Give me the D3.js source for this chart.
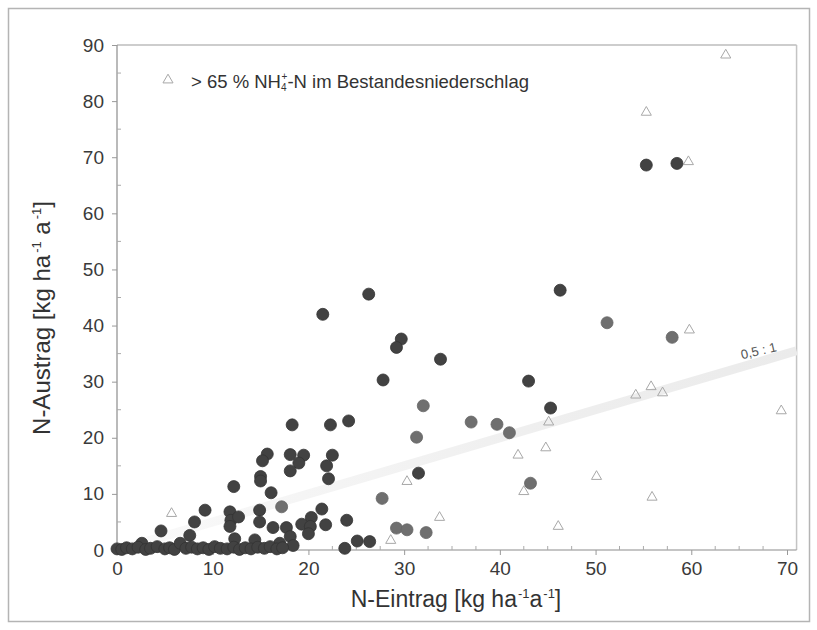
<!DOCTYPE html>
<html>
<head>
<meta charset="utf-8">
<script src="https://cdn.jsdelivr.net/npm/d3@7/dist/d3.min.js"></script>
<style>
  html, body { margin: 0; padding: 0; background: #fff; }
  svg { display: block; font-family: "Liberation Sans", Arial, sans-serif; }
</style>
</head>
<body>
<svg id="chart" width="817" height="630"></svg>
<script>
// N input vs. N output, dark circles
const darkX = [21.5, 26.3, 27.8, 29.7, 29.2, 33.8, 43.0, 46.3, 45.3, 31.5, 55.3, 58.5,
  18.3, 22.3, 24.2, 15.7, 15.2, 18.1, 19.5, 19.0, 18.1, 22.5, 21.9, 22.1, 15.0, 15.0, 12.2, 16.1,
  9.2, 8.1, 4.6, 7.6, 2.6, 11.8, 11.9, 12.7, 11.8, 14.9, 14.9, 16.3, 17.7, 21.4, 20.3, 19.3, 20.2,
  21.8, 20.0, 24.0, 18.1, 18.4, 17.0, 12.3, 14.4, 23.8, 25.1, 26.4,
  0.0, 0.5, 1.0, 1.6, 2.2, 3.0, 3.5, 4.2, 5.0, 5.5, 6.0, 6.6, 7.2, 7.8, 8.4, 9.0, 9.6, 10.2,
  10.8, 11.5, 12.2, 12.8, 13.4, 14.0, 14.7, 15.4, 16.0, 16.7, 17.3];
const darkY = [42.0, 45.6, 30.3, 37.6, 36.1, 34.0, 30.1, 46.3, 25.3, 13.7, 68.6, 68.9,
  22.3, 22.3, 23.0, 17.1, 15.9, 17.0, 16.9, 15.5, 14.1, 16.9, 15.0, 12.7, 13.1, 12.3, 11.3, 10.2,
  7.1, 5.0, 3.4, 2.6, 1.2, 6.8, 5.3, 5.9, 4.2, 7.1, 5.0, 4.0, 4.0, 7.3, 5.8, 4.6, 4.2,
  4.5, 2.9, 5.3, 2.4, 0.8, 1.2, 2.0, 1.8, 0.3, 1.6, 1.5,
  0.2, 0.1, 0.4, 0.2, 0.5, 0.1, 0.3, 0.6, 0.2, 0.4, 0.1, 1.2, 0.3, 0.5, 0.2, 0.4, 0.1, 0.6,
  0.3, 0.2, 0.5, 0.1, 0.4, 0.2, 0.5, 0.3, 0.6, 0.2, 0.4];

// medium grey circles
const greyX = [17.2, 27.7, 29.2, 30.3, 32.3, 31.3, 32.0, 37.0, 39.7, 41.0, 43.2, 51.2, 58.0];
const greyY = [7.7, 9.2, 3.9, 3.6, 3.1, 20.1, 25.7, 22.8, 22.4, 20.9, 11.9, 40.5, 37.9];

// open triangles: > 65 % NH4+-N in throughfall
const triX = [5.7, 28.6, 30.3, 33.7, 41.9, 42.5, 44.8, 45.1, 46.1, 50.1, 54.2, 55.8, 57.0, 55.9, 59.8, 69.4, 55.3, 59.7, 63.6];
const triY = [6.5, 1.7, 12.2, 5.8, 16.9, 10.4, 18.2, 22.8, 4.2, 13.1, 27.6, 29.1, 28.0, 9.4, 39.2, 24.8, 78.0, 69.2, 88.2];

// axes
const xTicks = [0, 10, 20, 30, 40, 50, 60, 70];
const yTicks = [0, 10, 20, 30, 40, 50, 60, 70, 80, 90];
const ratioLine = [[0, 0], [71, 35.5]];
const ratioLabel = "0,5 : 1";

const svg = d3.select("#chart");
const x = d3.scaleLinear().domain([0, 70]).range([117, 787]);
const y = d3.scaleLinear().domain([0, 90]).range([550, 45]);
const xMax = 71;
const font = "Liberation Sans, Arial, sans-serif";

// outer border
svg.append("rect").attr("x", 8.5).attr("y", 8.5).attr("width", 801).attr("height", 613)
  .attr("fill", "#fff").attr("stroke", "#b4b4b4").attr("stroke-width", 1.5);

// plot frame (top / right)
svg.append("line").attr("x1", x(0)).attr("x2", x(xMax)).attr("y1", y(90)).attr("y2", y(90))
  .attr("stroke", "#bdbdbd").attr("stroke-width", 1.5);
svg.append("line").attr("x1", x(xMax)).attr("x2", x(xMax)).attr("y1", y(90)).attr("y2", y(0))
  .attr("stroke", "#c4c4c4").attr("stroke-width", 1.5);

// 0.5 : 1 reference line
const grad = svg.append("defs").append("linearGradient").attr("id", "fade")
  .attr("gradientUnits", "userSpaceOnUse")
  .attr("x1", x(0)).attr("x2", x(xMax)).attr("y1", 0).attr("y2", 0);
grad.append("stop").attr("offset", "0").attr("stop-color", "#fafafa");
grad.append("stop").attr("offset", "0.6").attr("stop-color", "#efefef");
grad.append("stop").attr("offset", "1").attr("stop-color", "#ebebeb");
svg.append("line")
  .attr("x1", x(ratioLine[0][0])).attr("y1", y(ratioLine[0][1]))
  .attr("x2", x(ratioLine[1][0])).attr("y2", y(ratioLine[1][1]))
  .attr("stroke", "url(#fade)").attr("stroke-width", 9);
const ang = Math.atan2(y(35) - y(0), x(70) - x(0)) * 180 / Math.PI;
svg.append("text").attr("transform", `translate(${x(65.3)},${y(34.0)}) rotate(${ang * 0.8})`)
  .attr("font-size", 13).attr("fill", "#555").text(ratioLabel);

// axes
const xAxis = d3.axisBottom(x).tickValues(xTicks).tickSize(5).tickPadding(7).tickFormat(d3.format("d"));
const gx = svg.append("g").attr("transform", `translate(0,${y(0)})`).call(xAxis);
gx.select(".domain").attr("d", `M${x(0)},0H${x(xMax)}`).attr("stroke", "#8c8c8c").attr("stroke-width", 1.2);
gx.selectAll(".tick line").attr("stroke", "#999");
gx.selectAll(".tick text").attr("font-size", 19).attr("fill", "#3a3a3a").attr("font-family", font);

const yAxis = d3.axisLeft(y).tickValues(yTicks).tickSize(5).tickPadding(8);
const gy = svg.append("g").attr("transform", `translate(${x(0)},0)`).call(yAxis);
gy.select(".domain").attr("d", `M0,${y(0)}V${y(90)}`).attr("stroke", "#8c8c8c").attr("stroke-width", 1.2);
gy.selectAll(".tick line").attr("stroke", "#999");
gy.selectAll(".tick text").attr("font-size", 19).attr("fill", "#3a3a3a").attr("font-family", font);

// minor ticks
const xMinor = d3.range(2.5, 70, 2.5).filter(v => v % 10 !== 0);
svg.append("g").selectAll("line").data(xMinor).join("line")
  .attr("x1", d => x(d)).attr("x2", d => x(d)).attr("y1", y(0)).attr("y2", y(0) - 4)
  .attr("stroke", "#aaa");
const yMinor = d3.range(5, 90, 10);
svg.append("g").selectAll("line").data(yMinor).join("line")
  .attr("x1", x(0)).attr("x2", x(0) + 4).attr("y1", d => y(d)).attr("y2", d => y(d))
  .attr("stroke", "#aaa");

// axis titles
const xt = svg.append("text").attr("x", 456).attr("y", 607).attr("text-anchor", "middle")
  .attr("font-size", 23).attr("fill", "#333");
xt.append("tspan").text("N-Eintrag [kg ha");
xt.append("tspan").attr("font-size", 13).attr("dx", 1).attr("dy", -9).text("-1");
xt.append("tspan").attr("dy", 9).text("a");
xt.append("tspan").attr("font-size", 13).attr("dx", 1).attr("dy", -9).text("-1");
xt.append("tspan").attr("dy", 9).text("]");

const yt = svg.append("text").attr("transform", "translate(50,318) rotate(-90)").attr("text-anchor", "middle")
  .attr("font-size", 24).attr("fill", "#333");
yt.append("tspan").text("N-Austrag [kg ha");
yt.append("tspan").attr("font-size", 13).attr("dx", 2).attr("dy", -9).text("-1");
yt.append("tspan").attr("dy", 9).text(" a");
yt.append("tspan").attr("font-size", 13).attr("dx", 2).attr("dy", -9).text("-1");
yt.append("tspan").attr("dy", 9).text("]");

// triangles
const tri = d3.symbol().type(d3.symbolTriangle).size(44);
svg.append("g").selectAll("path").data(d3.zip(triX, triY)).join("path")
  .attr("d", tri).attr("transform", d => `translate(${x(d[0])},${y(d[1])})`)
  .attr("fill", "none").attr("stroke", "#a8a8a8").attr("stroke-width", 1);

// circles
svg.append("g").selectAll("circle").data(d3.zip(darkX, darkY)).join("circle")
  .attr("cx", d => x(d[0])).attr("cy", d => y(d[1])).attr("r", 6)
  .attr("fill", "#424242").attr("stroke", "#333").attr("stroke-width", 0.8);
svg.append("g").selectAll("circle").data(d3.zip(greyX, greyY)).join("circle")
  .attr("cx", d => x(d[0])).attr("cy", d => y(d[1])).attr("r", 6)
  .attr("fill", "#6f6f6f").attr("stroke", "#666").attr("stroke-width", 0.8);

// legend
svg.append("path").attr("d", tri).attr("transform", "translate(168,80)")
  .attr("fill", "none").attr("stroke", "#a8a8a8").attr("stroke-width", 1);
const lg = svg.append("text").attr("x", 191).attr("y", 88).attr("font-size", 18.5).attr("fill", "#333");
lg.append("tspan").text("> 65 % NH");
lg.append("tspan").attr("font-size", 10).attr("dy", 3).text("4");
lg.append("tspan").attr("font-size", 10).attr("dx", -5).attr("dy", -11).text("+");
lg.append("tspan").attr("dy", 8).text("-N im Bestandesniederschlag");
</script>
</body>
</html>
